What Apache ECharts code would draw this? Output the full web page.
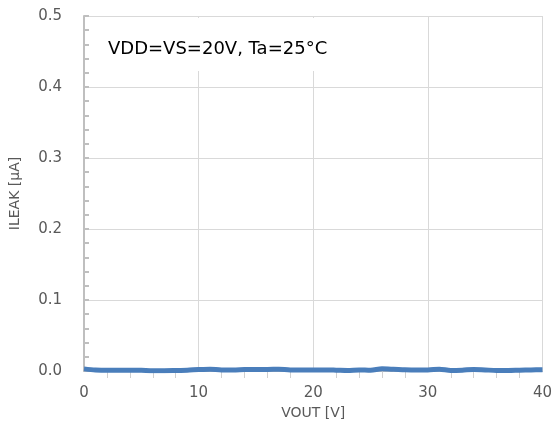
<!DOCTYPE html>
<html>
<head>
<meta charset="utf-8">
<script src="https://cdn.jsdelivr.net/npm/echarts@6/dist/echarts.min.js"></script>
<style>html,body{margin:0;padding:0;background:#fff;}#c{width:555px;height:430px;}</style>
</head>
<body>
<div id="c"></div>
<script>
var vout = [0,1,2,3,4,5,6,7,8,9,10,11,12,13,14,15,16,17,18,19,20,21,22,23,24,25,26,27,28,29,30,31,32,33,34,35,36,37,38,39,40];
var ileak = [0.003,0.0015,0.001,0.001,0.0012,0.001,0.0005,0.0005,0.0008,0.0012,0.002,0.0025,0.0015,0.0015,0.002,0.0022,0.0022,0.0025,0.0015,0.0015,0.0015,0.0015,0.0012,0.0008,0.0015,0.001,0.003,0.0025,0.0018,0.0015,0.0015,0.0025,0.0008,0.0012,0.0022,0.0015,0.0008,0.0008,0.0012,0.0015,0.0018];
var xTicks = [0,10,20,30,40];
var yTicks = [0.0,0.1,0.2,0.3,0.4,0.5];
var annotation = 'VDD=VS=20V, Ta=25°C';

var font = 'DejaVu Sans, Verdana, sans-serif';
var chart = echarts.init(document.getElementById('c'));
chart.setOption({
  animation: false,
  backgroundColor: '#fff',
  grid: {left: 82, right: 10, top: 16, bottom: 59, containLabel: false},
  xAxis: {
    type: 'value', min: xTicks[0], max: xTicks[xTicks.length-1], interval: 10,
    name: 'VOUT [V]', nameLocation: 'middle', nameGap: 32,
    nameTextStyle: {color: '#595959', fontSize: 14, fontFamily: font},
    axisLine: {show: true, lineStyle: {color: '#bfbfbf', width: 1}},
    axisTick: {show: false},
    minorTick: {show: true, splitNumber: 5, length: 7, lineStyle: {color: '#d0d0d0', width: 1}},
    axisLabel: {color: '#595959', fontSize: 15, fontFamily: font, margin: 15},
    splitLine: {show: true, lineStyle: {color: '#d9d9d9', width: 1}}
  },
  yAxis: {
    type: 'value', min: yTicks[0], max: yTicks[yTicks.length-1], interval: 0.1,
    name: 'ILEAK [μA]', nameLocation: 'middle', nameGap: 62, nameRotate: 90,
    nameTextStyle: {color: '#595959', fontSize: 14, fontFamily: font},
    axisLine: {show: true, lineStyle: {color: '#bfbfbf', width: 2}},
    axisTick: {show: true, inside: true, length: 5, lineStyle: {color: '#bfbfbf', width: 2}},
    minorTick: {show: true, splitNumber: 5, length: 5, lineStyle: {color: '#bfbfbf', width: 2}},
    axisLabel: {color: '#595959', fontSize: 15, fontFamily: font, margin: 22,
      formatter: function(v){ return v.toFixed(1); }},
    splitLine: {show: true, lineStyle: {color: '#d9d9d9', width: 1}}
  },
  graphic: [
    {type: 'rect', z: 1000, zlevel: 0, shape: {x: 95, y: 18, width: 250, height: 53}, style: {fill: '#ffffff', stroke: null}},
    {type: 'text', z: 1001, zlevel: 0, x: 108, y: 49, style: {text: annotation, fill: '#000', font: '18px ' + font, textVerticalAlign: 'middle'}}
  ],
  series: [{
    type: 'line', data: vout.map(function(x,i){ return [x, ileak[i]]; }),
    showSymbol: false, smooth: 0.3,
    lineStyle: {color: '#4a7ebb', width: 5},
    itemStyle: {color: '#4a7ebb'}
  }]
});
</script>
</body>
</html>
